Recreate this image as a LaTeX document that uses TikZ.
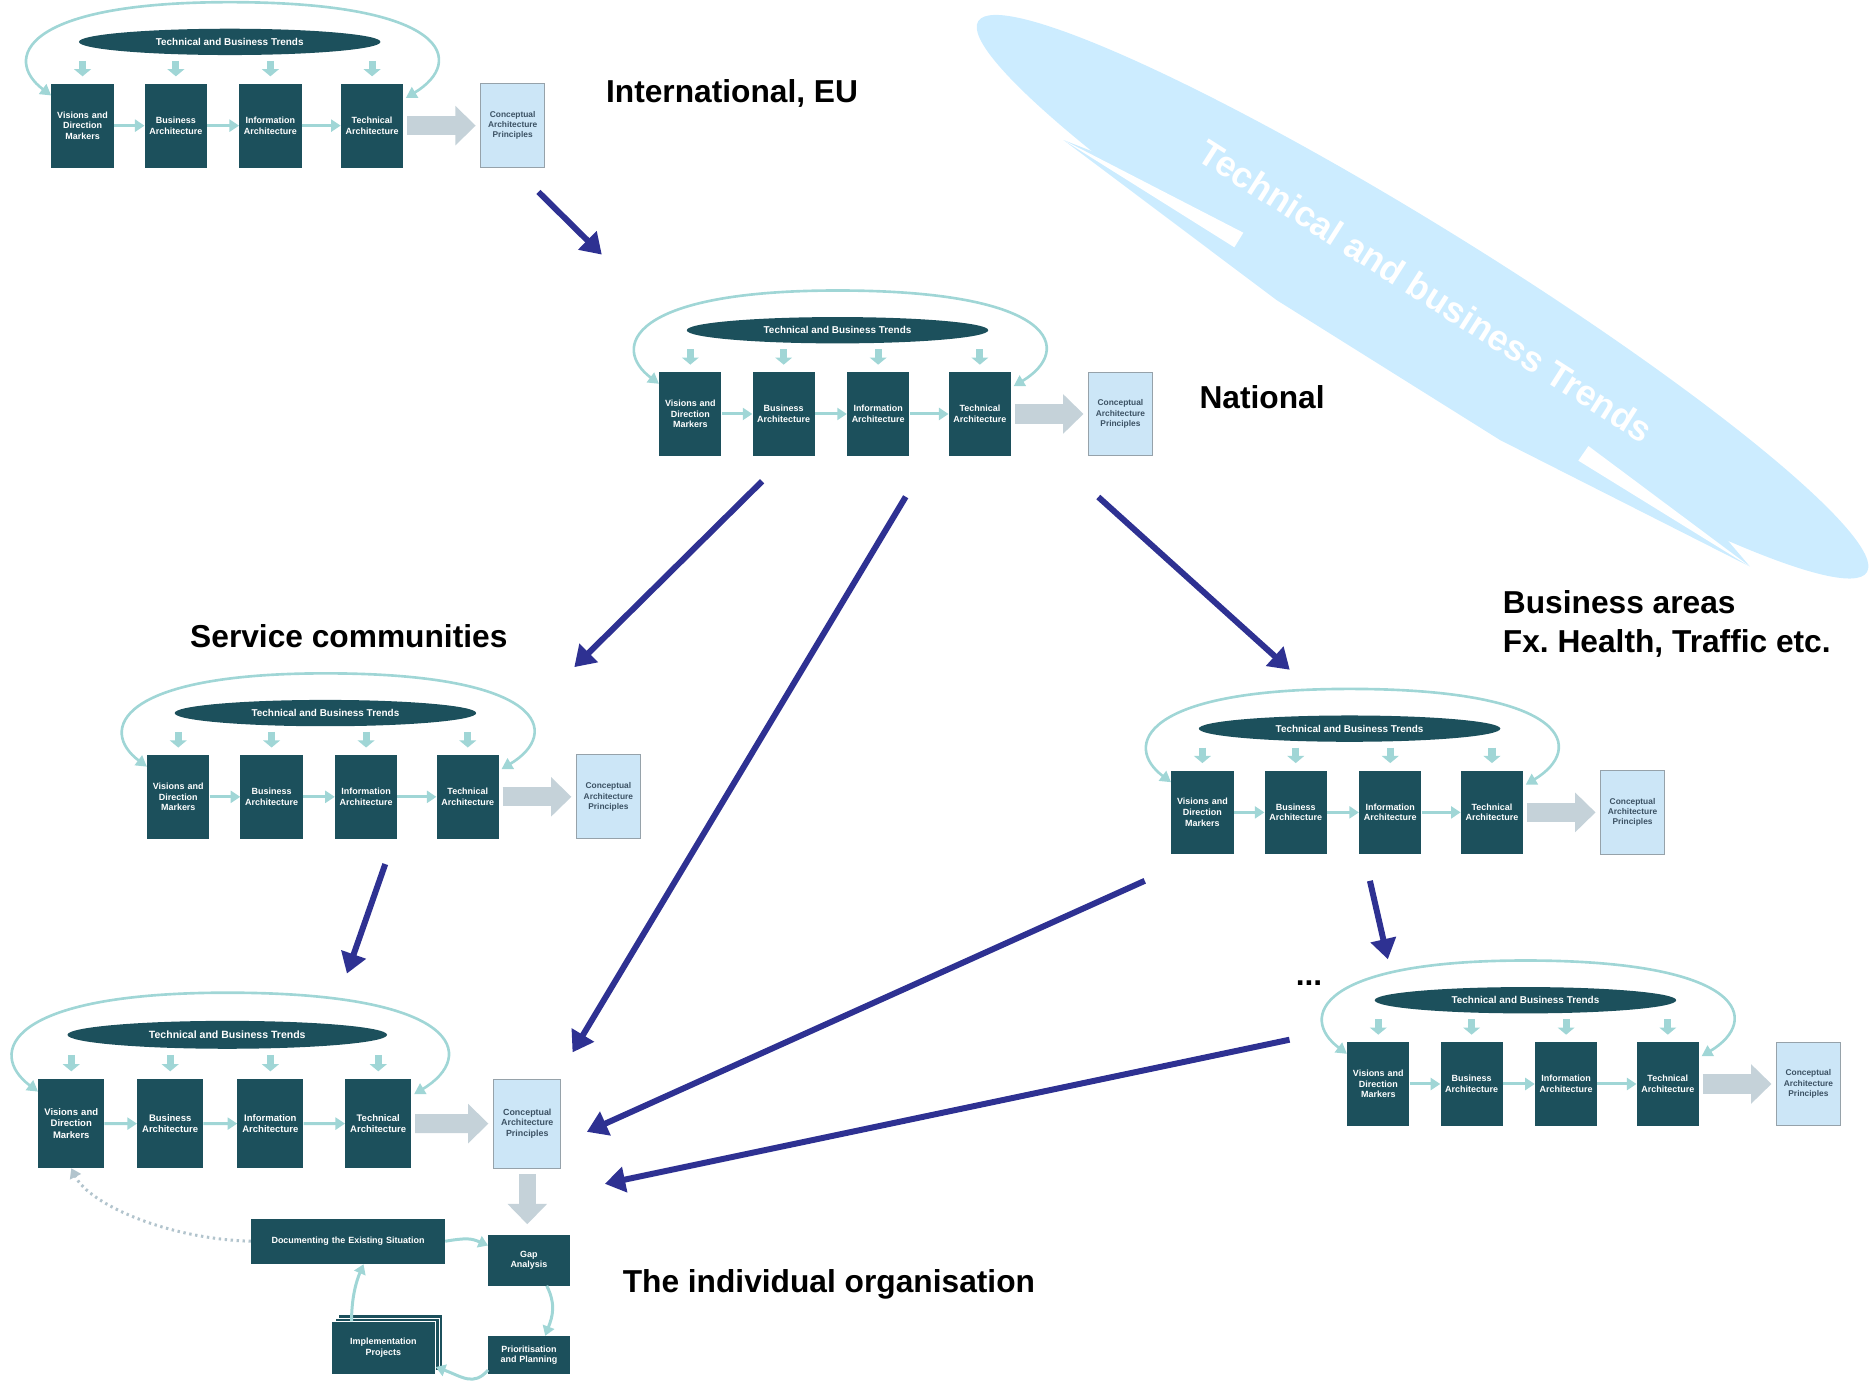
\documentclass[tikz,border=0pt]{standalone}
\usepackage{fontspec}
\setmainfont{Liberation Sans}
\usetikzlibrary{shapes,arrows,arrows.meta,shadows}
\definecolor{boxteal}{RGB}{28,80,92}
\definecolor{flowteal}{RGB}{160,214,214}
\definecolor{conceptblue}{RGB}{204,230,247}
\definecolor{conceptline}{RGB}{150,162,170}
\definecolor{conceptink}{RGB}{60,82,100}
\definecolor{arrowgrey}{RGB}{197,210,217}
\definecolor{swooshblue}{RGB}{204,236,255}
\definecolor{navy}{RGB}{46,49,146}
\definecolor{dotgrey}{RGB}{178,196,205}
\tikzstyle{block} = [rectangle, fill=boxteal, text=white, text width=50pt, text centered,
    minimum width=52pt, minimum height=70pt, inner sep=0pt, font=\fontsize{7.5}{9}\selectfont\bfseries]
\tikzstyle{concept} = [rectangle, draw=conceptline, line width=0.8pt, fill=conceptblue, text=conceptink,
    text width=50pt, text centered, minimum width=53pt, minimum height=70pt, inner sep=0pt,
    font=\fontsize{7}{8.5}\selectfont\bfseries]
\tikzstyle{trend} = [ellipse, fill=boxteal, text=white, minimum width=252pt, minimum height=22pt,
    inner sep=0pt, font=\fontsize{8.3}{9}\selectfont\bfseries]
\tikzstyle{flow} = [draw=flowteal, line width=2.5pt, -{Triangle[length=8pt,width=10pt]}]
\tikzstyle{drop} = [draw=flowteal, line width=6pt, -{Triangle[length=6pt,width=14pt]}]
\tikzstyle{cycleline} = [draw=flowteal, line width=2.2pt,
    {Triangle[length=9pt,width=10pt]}-{Triangle[length=9pt,width=10pt]}]
\tikzstyle{bigarrow} = [draw=arrowgrey, line width=16pt, -{Triangle[length=17pt,width=32pt]},
    shorten <=3pt, shorten >=4pt]
\tikzstyle{dotflow} = [draw=dotgrey, line width=2.5pt, dash pattern=on 2pt off 3pt,
    -{Triangle[length=8pt,width=10pt]}]
\tikzstyle{cascade} = [draw=navy, line width=5pt, -{Triangle[length=17pt,width=21pt]}]
\tikzstyle{heading} = [anchor=west, inner sep=0pt, font=\fontsize{26.5}{32}\selectfont\bfseries]

% one architecture block: prefix, top left corner of first box, scale
\newcommand{\archblock}[3]{%
  \begin{scope}[shift={#2}, scale=#3, transform shape]
    \node (#1v) [block] at (26,35) {Visions and\\Direction\\Markers};
    \path (#1v)+(78,0) node (#1b) [block] {Business\\Architecture};
    \path (#1b)+(79,0) node (#1i) [block] {Information\\Architecture};
    \path (#1i)+(85,0) node (#1t) [block] {Technical\\Architecture};
    \path (#1t)+(117.5,0) node (#1c) [concept] {Conceptual\\Architecture\\Principles};
    \path (#1b)+(45,-70) node (#1trend) [trend] {Technical and Business Trends};
    \foreach \k in {v,b,i,t}
      \path [drop] (#1\k.north)+(0,-19) -- +(0,-6);
    \path [flow] (#1v) -- (#1b);
    \path [flow] (#1b) -- (#1i);
    \path [flow] (#1i) -- (#1t);
    \path [bigarrow] (#1t) -- (#1c);
    \path (#1t.north east)+(2,12) coordinate (#1lr);
    \path (#1v.north west)+(0,10) coordinate (#1ll);
    \path (#1trend.north)+(0,-22) coordinate (#1top);
    \path [cycleline] (#1lr) .. controls +(50,-30) and +(185,0) .. (#1top)
        .. controls +(-175,0) and +(-40,-30) .. (#1ll);
  \end{scope}}

\begin{document}
\begin{tikzpicture}[x=1pt, y=-1pt]
    \useasboundingbox (0,0) rectangle (1568,1163);

    % Trends banner
    \fill [swooshblue] (1189,248) ellipse [x radius=437, y radius=58, rotate=-31.8];
    \fill [swooshblue] (888.8,117) -- (1067,250.8) -- (1253.8,367.8) -- (1462.7,473.6)
        -- (1400,400) -- (1100,200) -- cycle;
    \fill [white] (888.8,117) -- (1039.2,194.5) -- (1031.7,206.7) -- cycle;
    \fill [white] (1327.6,372.8) -- (1462.7,473.6) -- (1319.2,385) -- cycle;
    \node (banner) [rotate=-32.5, text=white, font=\fontsize{30}{34}\selectfont\bfseries] at (1192,243)
        {Technical and business Trends};

    % Place blocks
    \archblock{intl}{(43,70)}{1}
    \path (intlc.east)+(51,-27) node (intlname) [heading] {International, EU};
    \archblock{nat}{(551,311)}{1}
    \path (natc.east)+(39,-14) node (natname) [heading] {National};
    \archblock{serv}{(123,631)}{1}
    \path (servv.north west)+(36,-99) node (servname) [heading] {Service communities};
    \archblock{bus}{(979,644)}{1}
    \path (busc.north)+(-108.5,-122) node (busname) [heading, align=left]
        {Business areas\\Fx.\ Health, Traffic etc.};
    \archblock{dot}{(1126,871)}{1}
    \path (dotv.north west)+(-43,-49) node (dotname) [heading] {...};
    \archblock{org}{(32,902)}{1.06}

    %Individual organisation
    \path (orgc.south)+(1.4,76.8) node (gap) [block, minimum width=68pt, minimum height=42pt] {Gap\\Analysis};
    \path (gap.west)+(-117,-16) node (doc) [block, text width=158pt, minimum width=162pt,
        minimum height=38pt] {Documenting the Existing Situation};
    \path (gap.south)+(0,58) node (prio) [block, text width=66pt, minimum width=68pt,
        minimum height=32pt] {Prioritisation\\and Planning};
    \path (prio.west)+(-87.5,-6) node (impl) [block, text width=80pt, minimum width=87pt,
        minimum height=44pt, draw=white, line width=0.6pt,
        double copy shadow={shadow xshift=3pt, shadow yshift=3pt}] {Implementation\\Projects};
    \path (gap.east)+(44,20) node (orgname) [heading] {The individual organisation};
    \path [bigarrow, line width=14pt, shorten <=5pt, shorten >=9pt] (orgc.south) -- (orgc.south |- gap.north);
    \path [flow] (doc.east) .. controls +(18,-3) and +(-14,-6) .. (gap.160);
    \path [flow] (gap.-55) .. controls +(8,16) and +(6,-16) .. (prio.50);
    \path [flow] (prio.200) .. controls +(-12,14) and +(22,8) .. (impl.-20);
    \path [flow] (impl.140) .. controls +(0,-20) and +(-6,14) .. (doc.-56);
    \path [dotflow] (doc.west) .. controls +(-70,-2) and +(15,30) .. (orgv.south);

    % Cascade between levels
    \path (intlc.south)+(21.5,20) coordinate (intlout);
    \path (natv.north)+(-74,-98) coordinate (natin);
    \path (natb.south)+(-18,21) coordinate (natout1);
    \path (nati.south)+(23,34) coordinate (natout2);
    \path (natc.south)+(-18.5,34) coordinate (natout3);
    \path (servc.north)+(-28.5,-73) coordinate (servin);
    \path (servi.south)+(16,21) coordinate (servout);
    \path (busv.north)+(73,-84) coordinate (busin);
    \path (busv.south west)+(-22,22) coordinate (busout1);
    \path (busi.south)+(-17,22) coordinate (busout2);
    \path (dotv.north)+(8,-69) coordinate (dotin);
    \path (dotv.west)+(-48,-37) coordinate (dotout);
    \path (orgc.north east)+(9.3,-22) coordinate (orgin1);
    \path (orgc.east)+(21.3,6.9) coordinate (orgin2);
    \path (orgc.south east)+(36.3,12.8) coordinate (orgin3);
    \path (orgtrend.north)+(100,-39.3) coordinate (orgin4);
    \path [cascade] (intlout) -- (natin);
    \path [cascade] (natout1) -- (servin);
    \path [cascade] (natout2) -- (orgin1);
    \path [cascade] (natout3) -- (busin);
    \path [cascade] (servout) -- (orgin4);
    \path [cascade] (busout1) -- (orgin2);
    \path [cascade] (busout2) -- (dotin);
    \path [cascade] (dotout) -- (orgin3);
\end{tikzpicture}
\end{document}
